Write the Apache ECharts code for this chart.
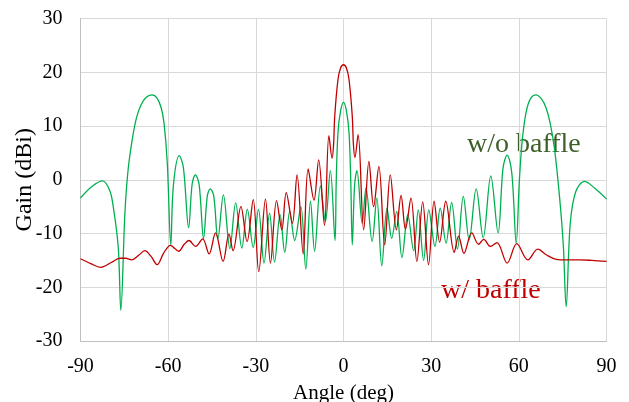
<!DOCTYPE html>
<html>
<head>
<meta charset="utf-8">
<script src="https://cdn.jsdelivr.net/npm/echarts@6/dist/echarts.min.js"></script>
<style>
html,body{margin:0;padding:0;background:#fff;}
#chart{width:629px;height:402px;}
</style>
</head>
<body>
<div id="chart"></div>
<script>
// Angle (deg), gain (dBi) — w/o baffle
const angleNoBaffle = [-90,-86,-82.4,-80,-78.8,-77.1,-76.2,-74.8,-73.7,-72.2,-70.8,-69.3,-67.6,-65.6,-63.8,-62.4,-61.4,-60.3,-59.1,-58.2,-56.2,-54.8,-53,-51.8,-50.7,-49.4,-47.9,-46.6,-45.6,-44.4,-43,-41.1,-38.9,-36.9,-34.8,-32.9,-30.9,-29.1,-27.2,-25.3,-23.6,-21.7,-20.1,-18.4,-16.7,-14.6,-12.9,-11.3,-9.9,-7.9,-6.2,-4.5,-2.9,-2.5,-1.9,-1,0,1,1.9,2.5,3.0,3.8,4.6,6.4,7.7,9.8,11.4,13.1,14.9,16.5,18.2,20,22,24,25.6,27.4,29.2,31.3,33.1,35.1,37,39,41,43,45.4,47.8,50.4,52.9,54.6,56,57.6,59.1,60.2,61.2,62.5,64,65.9,67.8,69.3,70.7,72.2,73.9,75.2,76.2,77.6,79.5,82.5,86,90];
const gainNoBaffle  = [-3.4,-1.2,-0.2,-2,-5,-12.4,-24.3,-6.2,1.9,7.8,11.6,13.9,15.3,15.8,15.2,13.4,10.5,3.1,-12.1,-1,4.5,2.3,-8.9,-0.8,0.9,-0.9,-10.9,-3,-1.7,-3,-11,-2.8,-12.8,-4.3,-12.7,-5.5,-12.6,-5.5,-15.5,-6.2,-15.3,-6.5,-13.5,-5.9,-11.3,-5.0,-16.6,-4.0,-13.3,-1.2,-7.8,1.7,-11.3,-0.6,8.7,12.8,14.4,12.8,8.7,-0.6,-12.1,-1,1.7,-8.1,-1.5,-11.5,-3.4,-16,-5.3,-10.9,-5.9,-14.5,-6.5,-13.2,-5.6,-15,-5.6,-12.4,-5.3,-11.8,-4.2,-12.9,-3.1,-11.2,-1.7,-10.8,0.7,-9.9,2.2,4.6,1.2,-11.8,0,7.5,12.6,15.1,15.8,15,13.4,10.6,5.8,-3,-12,-23.6,-8.1,-2.2,-0.3,-1.6,-3.6];

// Angle (deg), gain (dBi) — w/ baffle
const angleBaffle = [-90,-86.5,-83.1,-79.5,-76.5,-74.5,-72.5,-70,-68,-65.8,-63.8,-61.5,-59.2,-57.5,-56.4,-54.5,-52.9,-50.6,-48.2,-46,-43.8,-41.2,-39.2,-37.8,-35.1,-33,-30.9,-29,-26.7,-25,-22.9,-21.1,-19.6,-17.5,-15.9,-13.8,-12.1,-10.1,-8.5,-6.5,-5,-3.9,-3.4,-3,-1.9,-1,0,1,1.9,3,3.4,3.9,5,6.9,8.7,10.3,12.1,14.1,16,18.1,19.7,21.2,23.1,25.1,27.1,29.1,31,32.9,35,37.9,39.4,41.2,43.9,46.2,48,50.3,52.5,56,59.3,63.1,66.5,69.5,72.8,76,81,85,90];
const gainBaffle  = [-14.7,-15.6,-16.3,-15.4,-14.6,-14.6,-14.9,-14,-13.2,-14.3,-15.8,-13.6,-12.2,-12.9,-13.3,-12,-11.3,-12.4,-11,-13.8,-9.9,-15.2,-10.1,-13.2,-5.0,-11.5,-3.7,-17.1,-3.6,-15.5,-3.9,-9.3,-2.4,-8.1,0.9,-13.8,2.0,-3.8,3.7,-8.5,8.2,4.0,6.5,11.8,18.6,20.8,21.4,20.8,18.6,11.8,6.5,4.1,8.4,-9.3,3.4,-5,2.5,-12.1,0.9,-9.3,-2.9,-9.2,-3.4,-15.2,-4.1,-15.8,-4,-11.6,-4,-13.5,-10.5,-13.7,-9.9,-12,-11.1,-12.4,-11.7,-15.5,-11.9,-14.9,-12.9,-14,-14.8,-14.9,-14.9,-15,-15.2];

const xTicks = [-90,-60,-30,0,30,60,90];
const yTicks = [-30,-20,-10,0,10,20,30];
const seriesNames = ['w/o baffle','w/ baffle'];

const pairs = (xs, ys) => xs.map((x, i) => [x, ys[i]]);

const chart = echarts.init(document.getElementById('chart'), null, {renderer:'canvas'});
const font = 'Liberation Serif, Times New Roman, serif';
chart.setOption({
  animation:false,
  backgroundColor:'#ffffff',
  grid:{left:80.5, right:22.5, top:18.5, bottom:61, containLabel:false, outerBoundsMode:'none'},
  xAxis:{
    type:'value', min:xTicks[0], max:xTicks[xTicks.length-1], interval:30,
    name:'Angle (deg)', nameLocation:'middle', nameGap:42, nameMoveOverlap:false,
    nameTextStyle:{fontFamily:font, fontSize:21, color:'#000'},
    axisLine:{show:true, onZero:false, lineStyle:{color:'#bfbfbf', width:1}},
    axisTick:{show:false},
    axisLabel:{fontFamily:font, fontSize:20, color:'#000', margin:16},
    splitLine:{show:true, lineStyle:{color:'#d9d9d9', width:1}}
  },
  yAxis:{
    type:'value', min:yTicks[0], max:yTicks[yTicks.length-1], interval:10,
    name:'Gain (dBi)', nameLocation:'middle', nameGap:44, nameRotate:90, nameMoveOverlap:false,
    nameTextStyle:{fontFamily:font, fontSize:24, color:'#000'},
    axisLine:{show:true, onZero:false, lineStyle:{color:'#bfbfbf', width:1}},
    axisTick:{show:false},
    axisLabel:{fontFamily:font, fontSize:20, color:'#000', margin:18},
    splitLine:{show:true, lineStyle:{color:'#d9d9d9', width:1}}
  },
  series:[
    {name:seriesNames[0], type:'line', data:pairs(angleNoBaffle, gainNoBaffle), showSymbol:false, smooth:0.35,
     lineStyle:{color:'#00b050', width:1.3}, itemStyle:{color:'#00b050'}, z:2},
    {name:seriesNames[1], type:'line', data:pairs(angleBaffle, gainBaffle), showSymbol:false, smooth:0.35,
     lineStyle:{color:'#c00000', width:1.3}, itemStyle:{color:'#c00000'}, z:3}
  ],
  graphic:[
    {type:'text', left:467, top:131, style:{text:seriesNames[0], font:'28px "Liberation Serif", serif', fill:'#3f5f2a'}},
    {type:'text', left:441, top:277, style:{text:seriesNames[1], font:'28px "Liberation Serif", serif', fill:'#c00000'}}
  ]
});
</script>
</body>
</html>
